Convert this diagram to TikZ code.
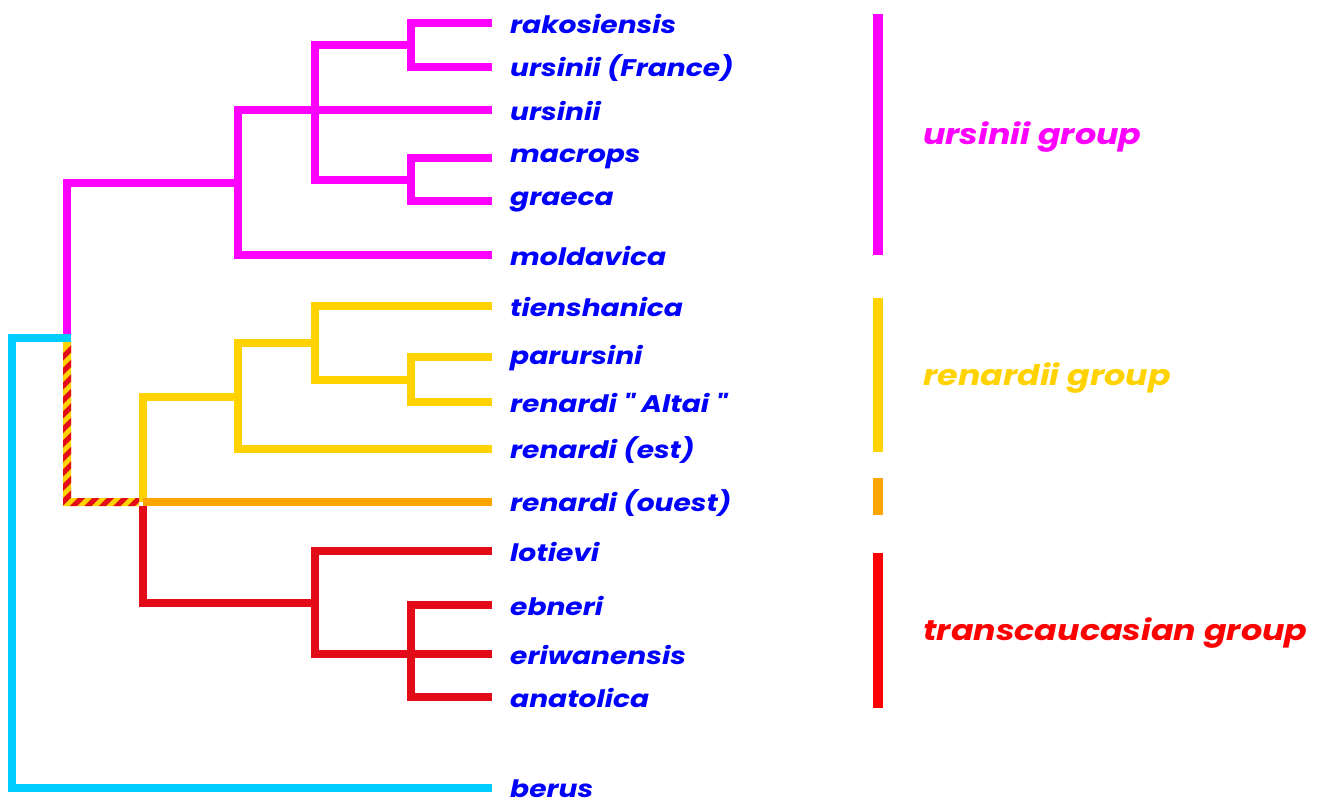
\documentclass[tikz,border=0pt]{standalone}
\usepackage{fontspec}
\setmainfont{Poppins}[Ligatures=TeXOff,FakeStretch=1.17]
\definecolor{cMag}{HTML}{FF00FF}
\definecolor{cYel}{HTML}{FFD200}
\definecolor{cOra}{HTML}{FFA500}
\definecolor{cRed}{HTML}{E30B17}
\definecolor{cRedBar}{HTML}{FF0000}
\definecolor{cCya}{HTML}{00CCFF}
\definecolor{cBlu}{HTML}{0000FF}
\begin{document}
\begin{tikzpicture}[x=1pt,y=-1pt,
  branch/.style={line width=8pt,line join=miter},
  leaf/.style={anchor=west,inner sep=0pt,text=cBlu,font=\fontsize{24}{26}\selectfont\bfseries\itshape},
  grouplab/.style={anchor=west,inner sep=0pt,font=\fontsize{28.5}{30}\selectfont\bfseries\itshape},
  groupbar/.style={line width=10pt}]
\useasboundingbox (0,0) rectangle (1320,803);
% leaf tips
\coordinate (rak) at (492,23);
\coordinate (urf) at (492,67);
\coordinate (urs) at (492,110);
\coordinate (mac) at (492,158);
\coordinate (gra) at (492,201);
\coordinate (mol) at (492,255);
\coordinate (tie) at (492,306);
\coordinate (par) at (492,357);
\coordinate (alt) at (492,402);
\coordinate (est) at (492,449);
\coordinate (oue) at (492,502);
\coordinate (lot) at (492,551);
\coordinate (ebn) at (492,605);
\coordinate (eri) at (492,654);
\coordinate (ana) at (492,697);
\coordinate (ber) at (492,788);
% internal nodes
\coordinate (a) at (411,45);
\coordinate (mg) at (411,180);
\coordinate (b) at (315,110);
\coordinate (c) at (238,183);
\coordinate (r) at (67,338);
\coordinate (d) at (411,380);
\coordinate (e) at (315,343);
\coordinate (f) at (238,397);
\coordinate (g) at (143,502);
\coordinate (h) at (315,603);
\coordinate (i) at (411,654);
\coordinate (cb) at (12,788);
% labels
\foreach \n/\t in {rak/rakosiensis,urf/ursinii (France),urs/ursinii,mac/macrops,gra/graeca,mol/moldavica,tie/tienshanica,par/parursini,alt/{renardi " Altai "},est/renardi (est),oue/renardi (ouest),lot/lotievi,ebn/ebneri,eri/eriwanensis,ana/anatolica,ber/berus}
  \node[leaf] (L\n) at ([xshift=18pt,yshift=-1pt]\n) {\t};
% ursinii clade
\draw[branch,cMag] (rak) -| (a) |- (urf);
\draw[branch,cMag] (mac) -| (mg) |- (gra);
\draw[branch,cMag] (a) -| (b) |- (mg);
\draw[branch,cMag] (b) -- (urs);
\draw[branch,cMag] (b) -| (c) |- (mol);
\draw[branch,cMag] (c) -| ([yshift=-4pt]r);
% renardii clade
\draw[branch,cYel] (par) -| (d) |- (alt);
\draw[branch,cYel] (tie) -| (e) |- (d);
\draw[branch,cYel] (e) -| (f) |- (est);
\draw[branch,cYel] (f) -| (g);
\draw[branch,cOra] (g) -- (oue);
% transcaucasian clade
\draw[branch,cRed] (ebn) -| (i) |- (ana);
\draw[branch,cRed] (lot) -| (h) |- (eri);
\draw[branch,cRed] ([yshift=-4pt]g) |- (h);
% striped root branch
\fill[cYel] (63,342) rectangle (71,506) (63,498) rectangle (139,506);
\begin{scope}
  \clip (63,342) rectangle (71,506) (63,498) rectangle (139,506);
  \foreach \k in {0,...,30}
    \draw[cRed,line width=5pt] (-100+\k*14.5,520) -- (100+\k*14.5,320);
\end{scope}
% outgroup
\draw[branch,cCya,line cap=rect] (r) -| (cb);
\draw[branch,cCya] (cb) -- (ber);
% group bars
\coordinate (u1) at (878,14); \coordinate (u2) at (878,255);
\coordinate (y1) at (878,298); \coordinate (y2) at (878,452);
\coordinate (o1) at (878,478); \coordinate (o2) at (878,515);
\coordinate (t1) at (878,553); \coordinate (t2) at (878,708);
\draw[groupbar,cMag] (u1) -- (u2);
\draw[groupbar,cYel] (y1) -- (y2);
\draw[groupbar,cOra] (o1) -- (o2);
\draw[groupbar,cRedBar] (t1) -- (t2);
\node[grouplab,text=cMag] (gU) at (923,137) {ursinii group};
\node[grouplab,text=cYel] (gY) at (923,378) {renardii group};
\node[grouplab,text=cRedBar] (gT) at (923,633) {transcaucasian group};
\end{tikzpicture}
\end{document}
